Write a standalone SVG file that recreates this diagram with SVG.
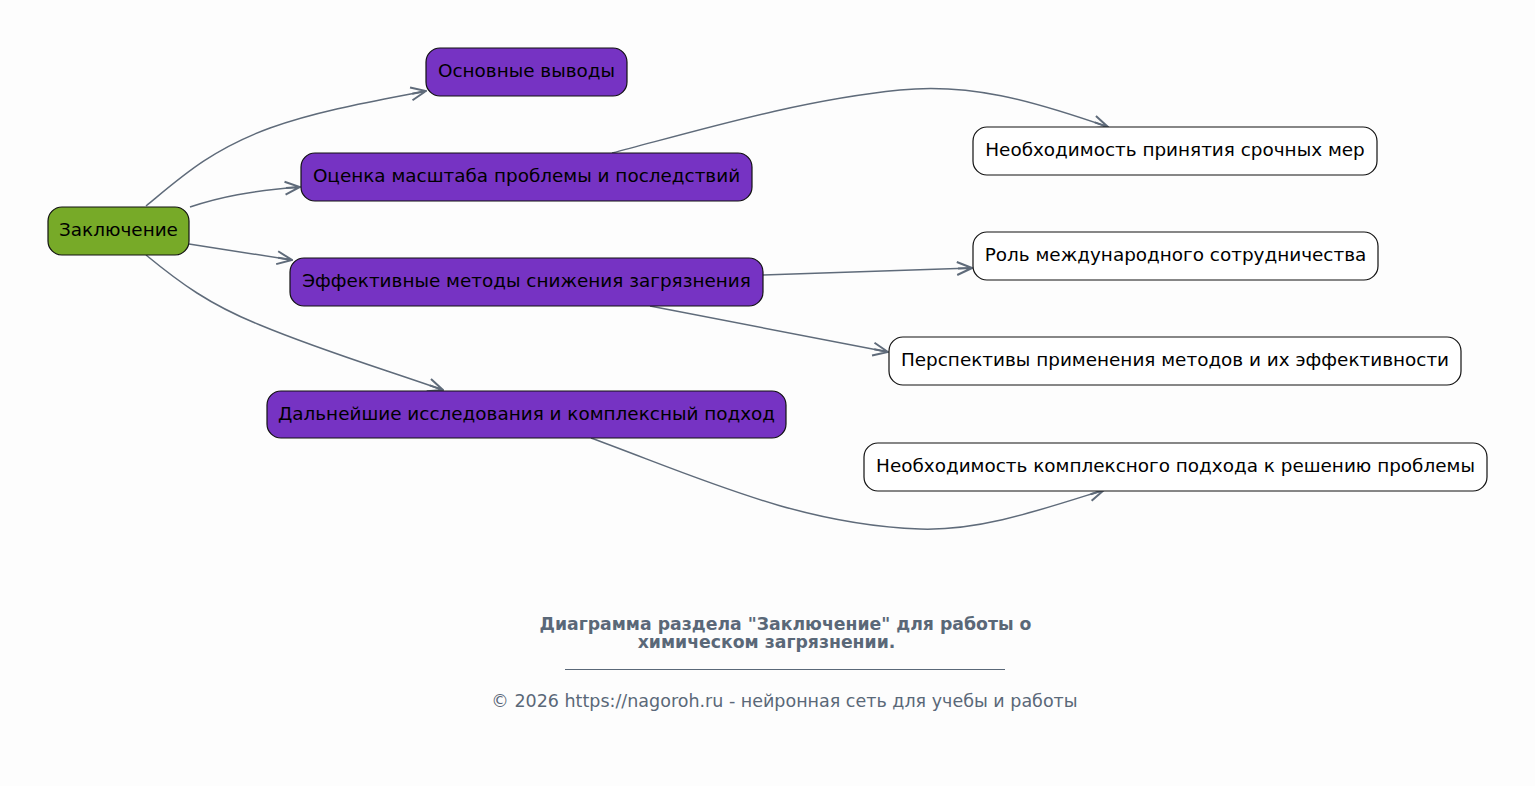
<svg xmlns="http://www.w3.org/2000/svg" width="1535" height="786" viewBox="0 0 1535 786">
<style>
.n rect{stroke:#111;stroke-width:1.2}
.p rect{fill:#7633c3}
.w rect{fill:#ffffff}
.g rect{fill:#77aa28}
.n text{font-family:"DejaVu Sans",sans-serif;font-size:18.4px;fill:#000;text-anchor:middle;dominant-baseline:central}
#edges path{fill:none;stroke:#5f6b7a;stroke-width:1.5;marker-end:url(#ah)}
.t{font-family:"DejaVu Sans",sans-serif;fill:#5a6878;text-anchor:middle}
</style>
<defs>
<marker id="ah" viewBox="0 0 18 16" refX="17" refY="8" markerWidth="18" markerHeight="16" markerUnits="userSpaceOnUse" orient="auto">
<path d="M2,1.5 L17,8 L2,14.5 M17,8 L3,8" fill="none" stroke="#5f6b7a" stroke-width="2"/>
</marker>
</defs>
<rect width="1535" height="786" fill="#fdfdfd"/>
<g id="edges">
<path d="M146,206 C180,178 210,150 270,128 C320,110 380,100 426,91"/>
<path d="M190,207 C220,197 250,191 300,187"/>
<path d="M189,244 L292,260"/>
<path d="M146,255 C180,283 210,305 260,325 C320,350 380,368 443,390"/>
<path d="M612,153 C700,130 800,100 900,90 C970,83 1030,100 1108,127"/>
<path d="M763,275 L972,268"/>
<path d="M650,306 L888,352"/>
<path d="M591,438 C700,478 800,525 920,529 C980,531 1040,510 1104,490"/>
</g>
<g id="n0" class="n g"><rect x="48" y="207" width="141" height="48" rx="14"/><text x="118.5" y="229.5">Заключение</text></g>
<g id="n1" class="n p"><rect x="426" y="48" width="201" height="48" rx="14"/><text x="526.5" y="70.5">Основные выводы</text></g>
<g id="n2" class="n p"><rect x="301" y="153" width="451" height="48" rx="14"/><text x="526.5" y="175.5">Оценка масштаба проблемы и последствий</text></g>
<g id="n3" class="n p"><rect x="290" y="258" width="473" height="48" rx="14"/><text x="526.5" y="280.5">Эффективные методы снижения загрязнения</text></g>
<g id="n4" class="n p"><rect x="267" y="391" width="519" height="47" rx="14"/><text x="526.5" y="413">Дальнейшие исследования и комплексный подход</text></g>
<g id="n5" class="n w"><rect x="973" y="127" width="404" height="48" rx="14"/><text x="1175" y="149.5">Необходимость принятия срочных мер</text></g>
<g id="n6" class="n w"><rect x="973" y="232" width="405" height="48" rx="14"/><text x="1175.5" y="254.5">Роль международного сотрудничества</text></g>
<g id="n7" class="n w"><rect x="889" y="337" width="572" height="48" rx="14"/><text x="1175" y="359.5">Перспективы применения методов и их эффективности</text></g>
<g id="n8" class="n w"><rect x="864" y="443" width="623" height="48" rx="14"/><text x="1175.5" y="465.5">Необходимость комплексного подхода к решению проблемы</text></g>
<text class="t" x="785.5" y="630" font-size="17.3" font-weight="bold">Диаграмма раздела "Заключение" для работы о</text>
<text class="t" x="766.5" y="648" font-size="17.3" font-weight="bold">химическом загрязнении.</text>
<line x1="565" y1="669.5" x2="1005" y2="669.5" stroke="#5a6878" stroke-width="1"/>
<text class="t" x="784.5" y="707" font-size="17.5">© 2026 https://nagoroh.ru - нейронная сеть для учебы и работы</text>
</svg>
